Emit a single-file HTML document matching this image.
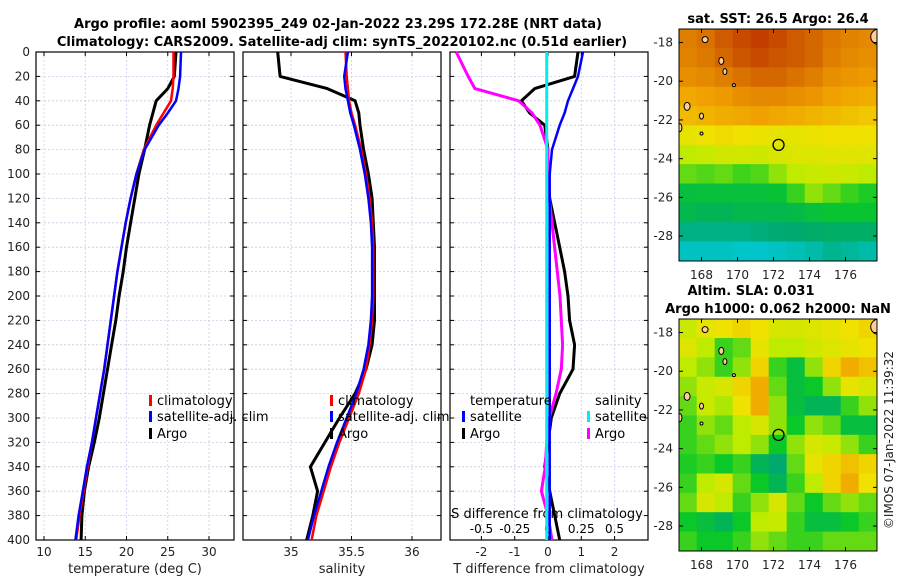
<!DOCTYPE html>
<html><head><meta charset="utf-8"><style>
body{margin:0;background:#fff}
svg{font-family:"DejaVu Sans","Liberation Sans",sans-serif;display:block}
</style></head><body>
<svg id="fig" width="900" height="580" viewBox="0 0 900 580" xmlns="http://www.w3.org/2000/svg">
<defs>
<clipPath id="c1"><rect x="679" y="29" width="198" height="232"/></clipPath>
<clipPath id="c2"><rect x="679" y="319" width="198" height="232"/></clipPath>
</defs>
<text x="338" y="28" font-size="13" font-weight="bold" text-anchor="middle">Argo profile: aoml 5902395_249 02-Jan-2022 23.29S 172.28E (NRT data)</text>
<text x="342" y="46" font-size="13" font-weight="bold" text-anchor="middle">Climatology: CARS2009. Satellite-adj clim: synTS_20220102.nc (0.51d earlier)</text>
<g id="g"></g>
</svg>
<script>
const depths=[0,20,30,40,50,60,80,100,120,140,160,180,200,220,240,260,280,300,320,340,360,380,400];
const tArgo=[26.0,25.8,25.0,23.6,23.2,22.8,22.2,21.5,21.0,20.5,20.0,19.6,19.1,18.7,18.2,17.7,17.2,16.7,16.1,15.4,14.9,14.6,14.5];
const tClim=[25.7,25.7,25.6,25.4,24.5,23.6,22.1,21.2,20.5,19.9,19.4,18.9,18.5,18.1,17.7,17.3,16.8,16.3,15.8,15.3,14.8,14.3,13.9];
const tSat=[26.6,26.5,26.3,26.0,25.0,23.9,22.2,21.2,20.5,19.9,19.4,18.9,18.5,18.1,17.7,17.3,16.8,16.3,15.8,15.2,14.7,14.2,13.8];
const sArgo=[34.89,34.91,35.30,35.53,35.56,35.57,35.60,35.64,35.67,35.68,35.69,35.69,35.69,35.69,35.67,35.62,35.53,35.40,35.28,35.16,35.22,35.18,35.13];
const sClim=[35.45,35.46,35.47,35.48,35.50,35.53,35.58,35.62,35.65,35.67,35.68,35.68,35.68,35.67,35.65,35.62,35.56,35.48,35.40,35.33,35.27,35.21,35.17];
const sSat=[35.47,35.44,35.45,35.47,35.49,35.52,35.57,35.61,35.64,35.66,35.67,35.67,35.67,35.66,35.64,35.60,35.54,35.46,35.38,35.31,35.25,35.19,35.14];
const dtSat=[1.05,0.9,0.75,0.6,0.5,0.35,0.12,0.05,0.05,0.05,0.05,0.05,0.05,0.05,0.05,0.05,0.05,0.05,0.05,0.05,0.05,0.05,0.05];
const dtArgo=[0.9,0.8,-0.4,-0.8,-0.55,-0.1,0.0,0.0,0.05,0.2,0.35,0.5,0.6,0.65,0.8,0.75,0.35,0.1,0.0,-0.1,0.05,0.2,0.35];
const dsSat=[-0.01,-0.01,-0.01,-0.01,-0.01,-0.01,-0.01,-0.01,-0.01,-0.01,-0.01,-0.01,-0.01,-0.01,-0.01,-0.01,-0.01,-0.01,-0.01,-0.01,-0.01,-0.01,-0.01];
const dsArgo=[-0.69,-0.6,-0.55,-0.22,-0.12,-0.06,0.0,0.0,0.01,0.03,0.05,0.07,0.09,0.1,0.11,0.1,0.06,0.01,-0.01,-0.02,-0.05,0.0,0.03];
const yTicks=[0,20,40,60,80,100,120,140,160,180,200,220,240,260,280,300,320,340,360,380,400];
const tTicks=[10,15,20,25,30];
const sTicks=[35,35.5,36];
const dtTicks=[-2,-1,0,1,2];
const dsTicks=[-0.5,-0.25,0,0.25,0.5];
const dsLabels=["-0.5","-0.25","0","0.25","0.5"];
const mapLatTicks=[-18,-20,-22,-24,-26,-28];
const mapLonTicks=[168,170,172,174,176];
const sstGrid=[
[.86,.88,.92,.95,.97,.95,.92,.9,.87,.85,.84],
[.85,.87,.9,.93,.95,.93,.92,.9,.86,.84,.83],
[.83,.84,.86,.88,.9,.9,.88,.86,.83,.82,.81],
[.79,.8,.81,.83,.84,.84,.83,.82,.8,.79,.78],
[.76,.77,.78,.79,.8,.79,.78,.77,.76,.75,.74],
[.68,.7,.71,.7,.69,.68,.68,.69,.7,.7,.7],
[.6,.62,.64,.64,.63,.65,.66,.66,.67,.67,.67],
[.5,.48,.5,.46,.48,.55,.6,.62,.63,.62,.6],
[.35,.36,.36,.36,.36,.37,.45,.55,.5,.45,.42],
[.32,.3,.3,.32,.32,.32,.33,.36,.38,.38,.38],
[.2,.2,.2,.2,.22,.24,.25,.26,.27,.27,.27],
[.08,.08,.08,.06,.06,.08,.1,.13,.18,.16,.13]];
const slaGrid=[
[.62,.68,.7,.72,.7,.65,.65,.66,.68,.7,.72],
[.66,.6,.45,.5,.68,.6,.6,.64,.66,.68,.7],
[.6,.55,.45,.55,.72,.45,.35,.55,.72,.78,.75],
[.55,.62,.65,.72,.78,.5,.35,.4,.55,.68,.65],
[.5,.62,.58,.7,.78,.55,.35,.3,.3,.45,.55],
[.45,.55,.5,.6,.65,.55,.4,.55,.5,.35,.35],
[.45,.5,.55,.6,.55,.4,.55,.65,.62,.55,.45],
[.42,.45,.4,.45,.3,.25,.5,.68,.72,.75,.72],
[.45,.6,.65,.5,.4,.3,.45,.6,.72,.78,.7],
[.5,.65,.6,.45,.55,.65,.5,.4,.5,.55,.5],
[.4,.35,.3,.4,.6,.62,.45,.35,.35,.4,.45],
[.45,.4,.4,.45,.55,.5,.45,.45,.5,.5,.5]];

const NS='http://www.w3.org/2000/svg';
const G=document.getElementById('g');
function el(t,a,p){const e=document.createElementNS(NS,t);for(const k in a)e.setAttribute(k,a[k]);(p||G).appendChild(e);return e;}
const TOP=52,BOT=540;
const yD=d=>TOP+(d/400)*(BOT-TOP);
const xT=v=>44+(v-10)*8.25;
const xS=v=>291+(v-35)*121;
const xDT=v=>548+v*33.3;
const xDS=v=>548+v*133;
const panels=[{x0:36,x1:234,ticks:tTicks,f:xT,lab:"temperature (deg C)"},{x0:243,x1:441,ticks:sTicks,f:xS,lab:"salinity"},{x0:450,x1:648,ticks:dtTicks,f:xDT,lab:"T difference from climatology"}];
panels.forEach((p,i)=>{
  const g=el('g',{});
  
  
  yTicks.forEach(d=>{
    const l=el('line',{x1:p.x0,x2:p.x1,y1:yD(d),y2:yD(d),stroke:'#c8cce8','stroke-width':0.8,'stroke-dasharray':'2,2'},g);
    
    
    el('line',{x1:p.x0,x2:p.x0+4,y1:yD(d),y2:yD(d),stroke:'#000'},g);
    el('line',{x1:p.x1-4,x2:p.x1,y1:yD(d),y2:yD(d),stroke:'#000'},g);
    if(i===0){const t=el('text',{x:30,y:yD(d)+4,'font-size':12,'text-anchor':'end',fill:'#222'},g);t.textContent=d;
      
      }
  });
  p.ticks.forEach((v,j)=>{
    const x=p.f(v);
    const l=el('line',{x1:x,x2:x,y1:TOP,y2:BOT,stroke:'#c8cce8','stroke-width':0.8,'stroke-dasharray':'2,2'},g);
    
    
    el('line',{x1:x,x2:x,y1:BOT,y2:BOT-4,stroke:'#000'},g);
    el('line',{x1:x,x2:x,y1:TOP,y2:TOP+4,stroke:'#000'},g);
    const t=el('text',{x:x,y:556,'font-size':12,'text-anchor':'middle',fill:'#222'},g);t.textContent=v;
    
    
  });
  const r=el('rect',{x:p.x0,y:TOP,width:p.x1-p.x0,height:BOT-TOP,fill:'none',stroke:'#000','stroke-width':1.2},g);
  
  
  const t=el('text',{x:(p.x0+p.x1)/2,y:573,'font-size':13,'text-anchor':'middle',fill:'#222'},g);t.textContent=p.lab;
  
  
});
dsTicks.forEach((v,j)=>{
  const t=el('text',{x:xDS(v),y:533,'font-size':12,'text-anchor':'middle',fill:'#000'});t.textContent=dsLabels[j];
  
  
});
const st=el('text',{x:547,y:518,'font-size':13,'text-anchor':'middle',fill:'#000'});st.textContent='S difference from climatology';



function line(vals,f,color,name,w){
  const pts=vals.map((v,i)=>f(v).toFixed(1)+','+yD(depths[i]).toFixed(1)).join(' ');
  const l=el('polyline',{points:pts,fill:'none',stroke:color,'stroke-width':w||2.5,'stroke-linejoin':'round'});
  
  
}
line(tArgo,xT,'#000','temp-argo-line',3);
line(tClim,xT,'#f00','temp-climatology-line');
line(tSat,xT,'#00f','temp-satellite-line');
line(sArgo,xS,'#000','sal-argo-line',3);
line(sClim,xS,'#f00','sal-climatology-line');
line(sSat,xS,'#00f','sal-satellite-line');
line(dtArgo,xDT,'#000','t-diff-argo-line',3);
line(dsArgo,xDS,'#f0f','s-diff-argo-line',3);
line(dtSat,xDT,'#00f','t-diff-satellite-line');
line(dsSat,xDS,'#0ee','s-diff-satellite-line',3);

function legend(x,y,color,label,name){
  const g=el('g',{});
  
  
  el('rect',{x:x,y:y-10,width:3,height:11,fill:color},g);
  const t=el('text',{x:x+8,y:y,'font-size':13,fill:'#000'},g);t.textContent=label;
}
legend(149,405,'#f00','climatology','legend-climatology');
legend(149,421,'#00f','satellite-adj. clim','legend-satellite');
legend(149,438,'#000','Argo','legend-argo');
legend(330,405,'#f00','climatology','legend-climatology-2');
legend(330,421,'#00f','satellite-adj. clim','legend-satellite-2');
legend(330,438,'#000','Argo','legend-argo-2');
legend(462,421,'#00f','satellite','legend-t-satellite');
legend(462,438,'#000','Argo','legend-t-argo');
legend(587,421,'#0ee','satellite','legend-s-satellite');
legend(587,438,'#f0f','Argo','legend-s-argo');
let t1=el('text',{x:470,y:405,'font-size':13});t1.textContent='temperature';

let t2=el('text',{x:595,y:405,'font-size':13});t2.textContent='salinity';


const stops=[[0,[0,205,230]],[0.25,[0,170,110]],[0.4,[10,200,40]],[0.6,[190,235,0]],[0.7,[240,225,0]],[0.8,[240,160,0]],[1,[185,45,0]]];
function cmap(v){for(let i=1;i<stops.length;i++){if(v<=stops[i][0]){const a=stops[i-1],b=stops[i],t=(v-a[0])/(b[0]-a[0]);return 'rgb('+a[1].map((c,k)=>Math.round(c+(b[1][k]-c)*t)).join(',')+')';}}return 'rgb(185,45,0)';}
const mX=lon=>679+(lon-166.75)*18;
function map(y0,grid,name,t1,clip){
  const mY=lat=>y0+(-17.3-lat)*19.35;
  const g=el('g',{});
  
  
  const inner=el('g',{'clip-path':'url(#'+clip+')'},g);
  grid.forEach((row,r)=>row.forEach((v,c)=>{
    const cell=el('rect',{x:mX(166.75+c)-0.3,y:mY(-17.3-r)-0.3,width:18.6,height:19.95,fill:cmap(v)},inner);
    
    
  }));
  [[168.2,-17.85,3,3],[169.1,-18.95,2.5,3.5],[169.3,-19.5,2,3],[169.8,-20.2,1.5,1.5],[167.2,-21.3,3,4],[168,-21.8,2,3],[166.8,-22.4,2,4],[168,-22.7,1.5,1.5],[177.9,-17.7,9,8]].forEach(s=>{
    const e=el('ellipse',{cx:mX(s[0]),cy:mY(s[1]),rx:s[2],ry:s[3],fill:'#fc9',stroke:'#000','stroke-width':1},inner);
    
    
  });
  const c=el('circle',{cx:mX(172.28),cy:mY(-23.29),r:5.5,fill:'none',stroke:'#000','stroke-width':1.3},g);
  
  
  el('rect',{x:679,y:y0,width:198,height:232,fill:'none',stroke:'#000','stroke-width':1},g);
  mapLatTicks.forEach(l=>{
    el('line',{x1:679,x2:683,y1:mY(l),y2:mY(l),stroke:'#000'},g);
    el('line',{x1:873,x2:877,y1:mY(l),y2:mY(l),stroke:'#000'},g);
    const t=el('text',{x:673,y:mY(l)+4,'font-size':12,'text-anchor':'end',fill:'#222'},g);t.textContent=l;
    
  });
  mapLonTicks.forEach(l=>{
    el('line',{x1:mX(l),x2:mX(l),y1:y0+232,y2:y0+228,stroke:'#000'},g);
    el('line',{x1:mX(l),x2:mX(l),y1:y0,y2:y0+4,stroke:'#000'},g);
    const t=el('text',{x:mX(l),y:y0+250,'font-size':12,'text-anchor':'middle',fill:'#222'},g);t.textContent=l;
    
  });
  t1.forEach((s,i)=>{const t=el('text',{x:s[1],y:s[2],'font-size':13,'font-weight':'bold','text-anchor':'middle'},g);t.textContent=s[0];
    });
}
map(29,sstGrid,'sst-map',[['sat. SST: 26.5 Argo: 26.4',778,23]],'c1');
map(319,slaGrid,'sla-map',[['Altim. SLA: 0.031',751,295],['Argo h1000: 0.062 h2000: NaN',778,313]],'c2');
const ts=el('text',{x:0,y:0,'font-size':12,'text-anchor':'middle',fill:'#222',transform:'translate(893,440) rotate(-90)'});ts.textContent='©IMOS 07-Jan-2022 11:39:32';

</script>
</body></html>
